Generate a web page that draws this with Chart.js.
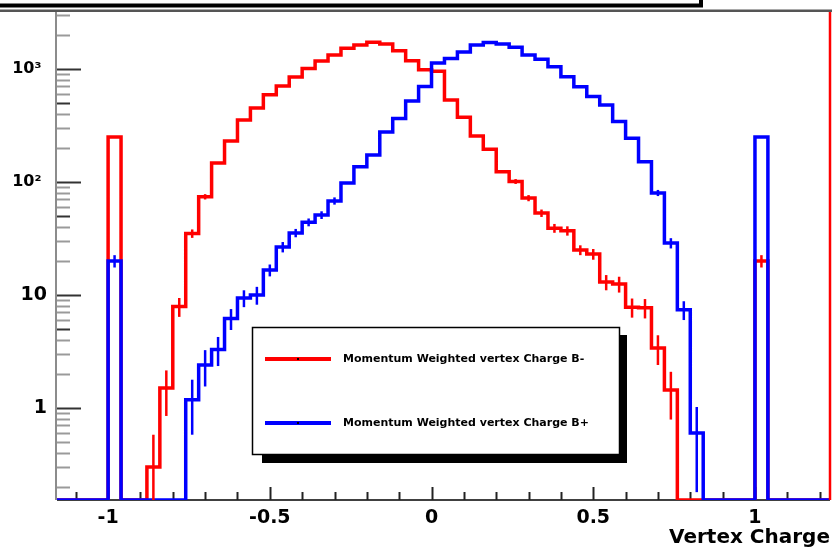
<!DOCTYPE html>
<html lang="en">
<head>
<meta charset="UTF-8">
<title>Vertex Charge</title>
<script src="https://cdn.jsdelivr.net/npm/chart.js"></script>
<style>
  html, body { margin: 0; padding: 0; background: #fff; }
  canvas { display: block; }
</style>
</head>
<body>
<canvas id="grafico" width="832" height="548"></canvas>
<script>
// histogram bins: 0.04 wide, starting at -1.2 (61 bins)
const binStart = -1.2
const binWidth = 0.04

// Momentum Weighted vertex Charge B- (red)
const chargeBminus = [
  0, 0, 0, 0, 0, 250, 0, 0, 0.3, 1.5,
  7.9, 35, 74, 147, 230, 354, 452, 592, 707, 850,
  1010, 1178, 1330, 1525, 1630, 1722, 1663, 1452, 1180, 985,
  955, 532, 374, 255, 195, 123, 101, 72, 53, 39,
  37, 25, 23, 13, 12.5, 7.8, 7.7, 3.4, 1.44, 0,
  0, 0, 0, 0, 0, 20, 0, 0, 0, 0,
  0
]
// Momentum Weighted vertex Charge B+ (blue)
const chargeBplus = [
  0, 0, 0, 0, 0, 20, 0, 0, 0, 0,
  0, 1.18, 2.4, 3.3, 6.2, 9.4, 10, 16.6, 26.6, 35.4,
  44, 51, 68, 98, 136, 173, 277, 365, 520, 700,
  1130, 1235, 1413, 1630, 1710, 1665, 1556, 1330, 1219, 1048,
  855, 697, 569, 480, 342, 244, 151, 80, 28.8, 7.4,
  0.6, 0, 0, 0, 0, 250, 0, 0, 0, 0,
  0
]
// error bars that show up past the line width
const errBminus = [
  0, 0, 0, 0, 0, 0, 0, 0, 0.28, 0.65,
  1.5, 3, 4, 0, 0, 0, 0, 0, 0, 0,
  0, 0, 0, 0, 0, 0, 0, 0, 0, 0,
  0, 0, 0, 0, 0, 0, 5, 4.5, 4, 3.5,
  3.5, 2.5, 2.5, 2, 2, 1.5, 1.5, 1, 0.65, 0,
  0, 0, 0, 0, 0, 2.5, 0, 0, 0, 0,
  0
]
const errBplus = [
  0, 0, 0, 0, 0, 2.5, 0, 0, 0, 0,
  0, 0.6, 0.85, 0.95, 1.3, 1.6, 1.8, 2, 2.8, 3,
  3.5, 4, 5, 0, 0, 0, 0, 0, 0, 0,
  0, 0, 0, 0, 0, 0, 0, 0, 0, 0,
  0, 0, 0, 0, 0, 0, 0, 5, 3, 1.4,
  0.42, 0, 0, 0, 0, 0, 0, 0, 0, 0,
  0
]

const xMajorTicks = [-1, -0.5, 0, 0.5, 1]
const xTickLabels = ['-1', '-0.5', '0', '0.5', '1']
const xMinorTicks = [-1.1, -0.9, -0.8, -0.7, -0.6, -0.4, -0.3, -0.2, -0.1,
  0.1, 0.2, 0.3, 0.4, 0.6, 0.7, 0.8, 0.9, 1.1, 1.2]
const yMajorTicks = [1, 10, 100, 1000]
const yTickLabels = ['1', '10', '10² ', '10³ ']
const yMinorTicks = [0.2, 0.3, 0.4, 0.5, 0.6, 0.7, 0.8, 0.9,
  2, 3, 4, 5, 6, 7, 8, 9, 20, 30, 40, 50, 60, 70, 80, 90,
  200, 300, 400, 500, 600, 700, 800, 900, 2000, 3000]

const legendLabels = ['Momentum Weighted vertex Charge B-', 'Momentum Weighted vertex Charge B+']

const xMin = -1.158, xMax = 1.232
const yMin = 0.1534, yMax = 3190

function pontos(valores) {
  // empty bins sit on the bottom of the frame like ROOT draws them
  const p = valores.map((v, i) => ({ x: binStart + i * binWidth, y: v > 0 ? v : yMin }))
  const ult = valores[valores.length - 1]
  p.push({ x: binStart + valores.length * binWidth, y: ult > 0 ? ult : yMin })
  return p
}

function linha(c, x1, y1, x2, y2) {
  c.beginPath(); c.moveTo(x1, y1); c.lineTo(x2, y2); c.stroke()
}

function semPadding(s) {
  s.paddingTop = 0; s.paddingBottom = 0; s.paddingLeft = 0; s.paddingRight = 0
}

const rootStyle = {
  id: 'rootStyle',
  beforeDatasetsDraw(chart) {
    const c = chart.ctx, a = chart.chartArea
    const sx = chart.scales.x, sy = chart.scales.y
    c.save()
    c.lineWidth = 2; c.strokeStyle = '#8c8c8c'
    linha(c, a.left - 1, a.top, a.left - 1, a.bottom)
    c.strokeStyle = '#000'; c.lineWidth = 1.5
    linha(c, a.left, a.bottom, a.right, a.bottom)
    sy.ticks.forEach(t => {
      const py = Math.round(sy.getPixelForValue(t.value)) + 0.5
      const maj = yMajorTicks.includes(t.value)
      const meio = String(t.value).charAt(0) === '5'
      c.strokeStyle = maj || meio ? '#333' : '#9a9a9a'
      c.lineWidth = 2
      linha(c, a.left, py, a.left + (maj ? 24 : 13), py)
    })
    c.strokeStyle = '#222'
    sx.ticks.forEach(t => {
      const px = Math.round(sx.getPixelForValue(t.value)) + 0.5
      const maj = xMajorTicks.includes(t.value)
      linha(c, px, a.bottom, px, a.bottom - (maj ? 13 : 8))
    })
    c.restore()
  },
  afterDatasetsDraw(chart) {
    const c = chart.ctx
    const sx = chart.scales.x, sy = chart.scales.y
    c.save()
    c.lineWidth = 2.5
    chart.data.datasets.forEach(ds => {
      c.strokeStyle = ds.borderColor
      ds.erros.forEach((e, i) => {
        const v = ds.valores[i]
        if (!e || !v) return
        const px = sx.getPixelForValue(binStart + (i + 0.5) * binWidth)
        linha(c, px, sy.getPixelForValue(Math.max(v - e, yMin)), px, sy.getPixelForValue(v + e))
      })
    })
    c.restore()
  },
  afterDraw(chart) {
    const c = chart.ctx, a = chart.chartArea
    c.save()
    // frame top and right edge
    c.strokeStyle = '#555'; c.lineWidth = 2.5
    linha(c, 0, 10.75, chart.width, 10.75)
    c.strokeStyle = '#ff0000'; c.lineWidth = 2.5
    linha(c, a.right, a.top, a.right, a.bottom)
    // bottom of the title pave, cut by the picture edge
    c.strokeStyle = '#000'; c.lineWidth = 4
    c.strokeRect(-10, -20, 711, 25.5)

    // legend box with shadow
    c.fillStyle = '#000'
    c.fillRect(262, 335, 365, 128)
    c.fillStyle = '#fff'
    c.fillRect(252, 327, 368, 128)
    c.strokeStyle = '#000'; c.lineWidth = 1.5
    c.strokeRect(252.5, 327.5, 367, 127)
    const ys = [359, 423]
    const cores = ['#ff0000', '#0000ff']
    c.font = 'bold 11px "DejaVu Sans"'
    c.textBaseline = 'middle'
    legendLabels.forEach((txt, i) => {
      c.strokeStyle = cores[i]; c.lineWidth = 4
      linha(c, 265, ys[i], 331, ys[i])
      c.fillStyle = '#000'
      c.fillRect(297, ys[i] - 1, 2, 2)
      c.fillText(txt, 343, ys[i] + 0.5)
    })
    c.restore()
  }
}

const ctx = document.getElementById('grafico')
new Chart(ctx, {
  type: 'line',
  data: {
    datasets: [
      {
        label: legendLabels[1],
        data: pontos(chargeBplus),
        valores: chargeBplus,
        erros: errBplus,
        borderColor: '#0000ff',
        borderWidth: 3.5,
        stepped: true,
        pointRadius: 0,
        fill: false,
        order: 0
      },
      {
        label: legendLabels[0],
        data: pontos(chargeBminus),
        valores: chargeBminus,
        erros: errBminus,
        borderColor: '#ff0000',
        borderWidth: 3.5,
        stepped: true,
        pointRadius: 0,
        fill: false,
        order: 1
      }
    ]
  },
  options: {
    responsive: false,
    animation: false,
    layout: { padding: { top: 12, right: 2, left: 0, bottom: 0 } },
    plugins: {
      legend: { display: false },
      tooltip: { enabled: false }
    },
    scales: {
      x: {
        type: 'linear',
        min: xMin,
        max: xMax,
        afterBuildTicks: s => {
          s.ticks = xMinorTicks.concat(xMajorTicks).sort((p, q) => p - q).map(v => ({ value: v }))
        },
        afterFit: s => { s.height = 48; semPadding(s) },
        grid: { display: false, drawTicks: false },
        border: { display: false },
        ticks: {
          autoSkip: false,
          maxRotation: 0,
          padding: 7,
          color: '#000',
          font: { family: 'DejaVu Sans', weight: 'bold', size: 19 },
          callback: v => {
            const k = xMajorTicks.indexOf(v)
            return k >= 0 ? xTickLabels[k] : ''
          }
        },
        title: {
          display: true,
          text: 'Vertex Charge',
          align: 'end',
          color: '#000',
          padding: { top: 0, bottom: 0 },
          font: { family: 'DejaVu Sans', weight: 'bold', size: 20, lineHeight: 1 }
        }
      },
      y: {
        type: 'logarithmic',
        min: yMin,
        max: yMax,
        afterBuildTicks: s => {
          s.ticks = yMinorTicks.concat(yMajorTicks).sort((p, q) => p - q).map(v => ({ value: v }))
        },
        afterFit: s => { s.width = 57; semPadding(s) },
        grid: { display: false, drawTicks: false },
        border: { display: false },
        ticks: {
          autoSkip: false,
          padding: 10,
          color: '#000',
          font: c => ({ family: 'DejaVu Sans', weight: 'bold', size: c.tick && c.tick.value >= 100 ? 16 : 19 }),
          callback: v => {
            const k = yMajorTicks.indexOf(v)
            return k >= 0 ? yTickLabels[k] : ''
          }
        }
      }
    }
  },
  plugins: [rootStyle]
})
</script>
</body>
</html>
